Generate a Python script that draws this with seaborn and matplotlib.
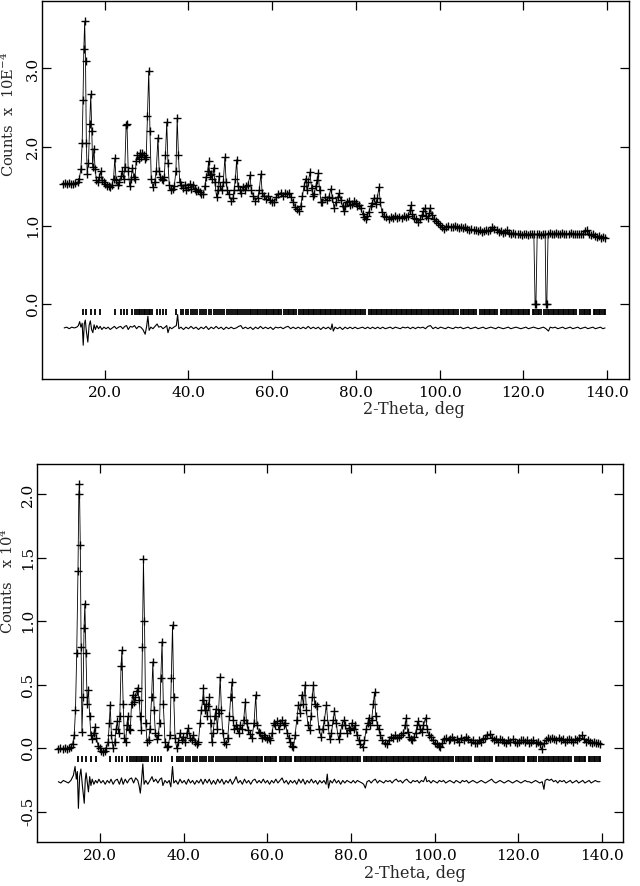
import numpy as np
import matplotlib
matplotlib.use('Agg')
import matplotlib.pyplot as plt
from matplotlib.ticker import FormatStrFormatter
import seaborn as sns

sns.set_theme(style='ticks')
plt.rcParams['font.family'] = ['DejaVu Serif']
plt.rcParams['mathtext.fontset'] = 'dejavuserif'
plt.rcParams['axes.unicode_minus'] = False

# observed profile, panel 1 (2-theta, counts / 1e4)
obs_top = [
    (10.0, 1.53), (10.5, 1.54), (11.0, 1.53), (11.5, 1.54), (12.0, 1.53), (12.5, 1.53), (13.0, 1.54),
    (13.5, 1.55), (13.9, 1.60), (14.3, 1.72), (14.6, 2.05), (14.8, 2.60), (15.0, 3.25), (15.2, 3.60),
    (15.4, 3.10), (15.6, 2.05), (15.8, 1.66), (16.1, 1.80), (16.4, 2.30), (16.65, 2.67), (16.9, 2.20),
    (17.1, 1.75), (17.4, 1.98), (17.7, 1.72), (18.0, 1.58), (18.3, 1.55), (18.7, 1.62), (19.0, 1.69),
    (19.3, 1.58), (19.7, 1.55), (20.1, 1.53), (20.5, 1.51), (20.9, 1.50), (21.3, 1.49), (21.7, 1.52),
    (22.1, 1.60), (22.4, 1.86), (22.7, 1.58), (23.1, 1.52), (23.5, 1.55), (23.9, 1.63), (24.2, 1.70),
    (24.5, 1.60), (24.8, 1.75), (25.1, 2.28), (25.3, 2.30), (25.6, 1.70), (25.95, 1.51), (26.3, 1.60),
    (26.6, 1.74), (26.9, 1.62), (27.2, 1.60), (27.5, 1.82), (27.8, 1.90), (28.1, 1.85), (28.4, 1.92),
    (28.7, 1.88), (29.0, 1.93), (29.3, 1.90), (29.6, 1.85), (29.9, 1.88), (30.2, 2.40), (30.5, 2.97),
    (30.8, 2.20), (31.1, 1.60), (31.5, 1.49), (31.9, 1.55), (32.3, 1.70), (32.7, 2.12), (33.0, 1.70),
    (33.3, 1.62), (33.6, 1.60), (33.9, 1.58), (34.2, 1.62), (34.5, 1.90), (34.8, 2.32), (35.1, 1.80),
    (35.4, 1.52), (35.8, 1.45), (36.2, 1.47), (36.6, 1.50), (37.0, 1.70), (37.3, 2.37), (37.6, 1.90),
    (37.9, 1.55), (38.3, 1.52), (38.7, 1.48), (39.1, 1.52), (39.5, 1.46), (39.9, 1.49), (40.3, 1.53),
    (40.7, 1.47), (41.1, 1.52), (41.5, 1.47), (41.9, 1.44), (42.3, 1.46), (42.7, 1.43), (43.1, 1.40),
    (43.5, 1.40), (43.9, 1.50), (44.2, 1.62), (44.6, 1.70), (44.8, 1.82), (45.1, 1.65), (45.4, 1.66),
    (45.7, 1.60), (46.0, 1.74), (46.3, 1.55), (46.7, 1.37), (47.0, 1.45), (47.3, 1.63), (47.6, 1.50),
    (47.9, 1.45), (48.3, 1.55), (48.7, 1.87), (49.0, 1.55), (49.3, 1.45), (49.7, 1.40), (50.2, 1.32),
    (50.6, 1.35), (50.9, 1.45), (51.2, 1.60), (51.5, 1.84), (51.8, 1.50), (52.2, 1.45), (52.6, 1.42),
    (53.0, 1.49), (53.4, 1.45), (53.8, 1.50), (54.2, 1.52), (54.7, 1.64), (55.0, 1.45), (55.5, 1.38),
    (56.0, 1.32), (56.5, 1.35), (56.9, 1.45), (57.3, 1.66), (57.6, 1.42), (58.0, 1.38), (58.5, 1.34),
    (59.0, 1.38), (59.5, 1.33), (60.0, 1.30), (60.5, 1.30), (61.0, 1.36), (61.5, 1.40), (62.0, 1.42),
    (62.5, 1.38), (63.0, 1.41), (63.5, 1.40), (64.0, 1.42), (64.5, 1.36), (65.0, 1.30), (65.5, 1.24),
    (66.0, 1.21), (66.4, 1.19), (66.8, 1.25), (67.2, 1.38), (67.6, 1.50), (68.0, 1.60), (68.3, 1.45),
    (68.6, 1.55), (69.0, 1.68), (69.4, 1.48), (69.7, 1.38), (70.0, 1.40), (70.4, 1.50), (70.7, 1.58),
    (71.0, 1.67), (71.3, 1.45), (71.7, 1.30), (72.0, 1.30), (72.5, 1.36), (73.0, 1.33), (73.5, 1.36),
    (74.0, 1.47), (74.4, 1.35), (74.8, 1.22), (75.2, 1.30), (75.6, 1.36), (76.0, 1.41), (76.4, 1.33),
    (76.8, 1.25), (77.1, 1.19), (77.5, 1.25), (77.9, 1.30), (78.3, 1.32), (78.7, 1.26), (79.1, 1.28),
    (79.5, 1.31), (79.9, 1.29), (80.3, 1.25), (80.7, 1.27), (81.1, 1.22), (81.6, 1.15), (82.0, 1.11),
    (82.3, 1.09), (82.7, 1.12), (83.1, 1.18), (83.5, 1.25), (83.9, 1.29), (84.3, 1.35), (84.7, 1.28),
    (85.1, 1.35), (85.5, 1.49), (85.8, 1.30), (86.2, 1.18), (86.7, 1.13), (87.3, 1.11), (87.9, 1.09),
    (88.4, 1.11), (88.9, 1.10), (89.4, 1.12), (89.9, 1.10), (90.4, 1.11), (90.9, 1.10), (91.4, 1.12),
    (91.9, 1.11), (92.4, 1.13), (92.9, 1.20), (93.2, 1.26), (93.5, 1.15), (93.9, 1.10), (94.4, 1.08),
    (94.9, 1.05), (95.4, 1.08), (95.8, 1.14), (96.1, 1.19), (96.4, 1.22), (96.8, 1.13), (97.2, 1.10),
    (97.5, 1.16), (97.8, 1.22), (98.1, 1.14), (98.6, 1.09), (99.1, 1.06), (99.6, 1.04), (100.1, 1.01),
    (100.6, 0.98), (101.1, 0.96), (101.6, 0.99), (102.1, 1.00), (102.6, 0.98), (103.1, 0.99),
    (103.6, 1.00), (104.1, 0.98), (104.6, 0.97), (105.1, 0.99), (105.6, 0.97), (106.1, 0.98),
    (106.6, 0.96), (107.1, 0.95), (107.6, 0.96), (108.1, 0.94), (108.6, 0.95), (109.1, 0.93),
    (109.6, 0.94), (110.1, 0.92), (110.6, 0.93), (111.1, 0.94), (111.6, 0.93), (112.1, 0.95),
    (112.6, 0.98), (113.1, 0.96), (113.6, 0.94), (114.1, 0.92), (114.6, 0.93), (115.1, 0.91),
    (115.6, 0.92), (116.1, 0.94), (116.6, 0.91), (117.1, 0.90), (117.6, 0.91), (118.1, 0.90),
    (118.6, 0.89), (119.1, 0.90), (119.6, 0.88), (120.1, 0.89), (120.6, 0.90), (121.1, 0.88),
    (121.6, 0.89), (122.1, 0.90), (122.5, 0.89), (122.8, 0.00), (123.0, 0.00), (123.3, 0.89),
    (123.7, 0.90), (124.2, 0.88), (124.7, 0.89), (125.2, 0.89), (125.4, 0.00), (125.6, 0.00),
    (125.9, 0.90), (126.3, 0.91), (126.8, 0.89), (127.3, 0.90), (127.8, 0.91), (128.3, 0.89),
    (128.8, 0.90), (129.3, 0.91), (129.8, 0.90), (130.3, 0.89), (130.8, 0.90), (131.3, 0.91),
    (131.8, 0.89), (132.3, 0.90), (132.8, 0.89), (133.3, 0.90), (133.8, 0.89), (134.3, 0.90),
    (134.8, 0.93), (135.2, 0.94), (135.6, 0.90), (136.1, 0.88), (136.6, 0.89), (137.1, 0.87),
    (137.6, 0.86), (138.1, 0.87), (138.6, 0.85), (139.1, 0.86), (139.5, 0.84),
]

# observed profile, panel 2 (2-theta, counts / 1e4)
obs_bot = [
    (10.0, -0.01), (10.5, 0.00), (11.0, -0.01), (11.5, 0.00), (12.0, -0.01), (12.5, 0.00), (13.0, 0.01),
    (13.4, 0.03), (13.8, 0.10), (14.1, 0.30), (14.4, 0.75), (14.7, 1.40), (14.9, 2.00), (15.05, 2.08),
    (15.25, 1.60), (15.45, 0.80), (15.65, 0.13), (15.9, 0.40), (16.15, 0.95), (16.35, 1.14), (16.6, 0.75),
    (16.9, 0.35), (17.2, 0.46), (17.5, 0.25), (17.8, 0.10), (18.1, 0.07), (18.5, 0.12), (18.8, 0.17),
    (19.1, 0.08), (19.5, 0.02), (19.9, 0.00), (20.3, -0.02), (20.7, -0.03), (21.1, -0.02), (21.5, 0.00),
    (21.9, 0.05), (22.2, 0.20), (22.4, 0.34), (22.7, 0.10), (23.1, 0.00), (23.5, 0.05), (23.8, 0.15),
    (24.1, 0.21), (24.4, 0.12), (24.7, 0.25), (25.0, 0.65), (25.2, 0.77), (25.5, 0.35), (25.8, 0.08),
    (26.1, 0.05), (26.4, 0.18), (26.6, 0.25), (26.9, 0.15), (27.2, 0.14), (27.5, 0.35), (27.8, 0.42),
    (28.1, 0.36), (28.4, 0.40), (28.7, 0.45), (29.0, 0.47), (29.3, 0.38), (29.6, 0.25), (29.85, 0.14),
    (30.1, 0.80), (30.35, 1.49), (30.6, 1.00), (30.9, 0.20), (31.2, 0.05), (31.6, 0.06), (31.9, 0.15),
    (32.3, 0.40), (32.6, 0.68), (32.9, 0.30), (33.2, 0.12), (33.6, 0.07), (33.9, 0.10), (34.2, 0.20),
    (34.5, 0.55), (34.8, 0.84), (35.1, 0.35), (35.5, 0.05), (35.9, 0.01), (36.3, 0.02), (36.7, 0.10),
    (37.0, 0.55), (37.3, 0.97), (37.6, 0.40), (37.9, 0.08), (38.3, 0.00), (38.7, 0.05), (39.1, 0.12),
    (39.5, 0.06), (39.9, 0.09), (40.3, 0.05), (40.7, 0.12), (41.1, 0.16), (41.5, 0.08), (41.9, 0.06),
    (42.3, 0.10), (42.7, 0.05), (43.1, 0.03), (43.5, 0.05), (43.9, 0.20), (44.2, 0.30), (44.5, 0.38),
    (44.7, 0.47), (45.0, 0.30), (45.3, 0.35), (45.6, 0.25), (45.9, 0.33), (46.1, 0.40), (46.4, 0.20),
    (46.7, 0.05), (47.0, 0.12), (47.4, 0.25), (47.7, 0.31), (48.0, 0.15), (48.3, 0.28), (48.7, 0.56),
    (49.0, 0.30), (49.3, 0.12), (49.7, 0.05), (50.1, 0.03), (50.5, 0.08), (50.9, 0.25), (51.2, 0.40),
    (51.5, 0.52), (51.8, 0.22), (52.1, 0.15), (52.4, 0.18), (52.7, 0.16), (53.1, 0.12), (53.5, 0.18),
    (53.9, 0.15), (54.3, 0.22), (54.7, 0.36), (55.0, 0.20), (55.4, 0.14), (55.9, 0.11), (56.3, 0.08),
    (56.8, 0.20), (57.2, 0.42), (57.5, 0.18), (57.9, 0.13), (58.3, 0.12), (58.7, 0.08), (59.1, 0.10),
    (59.5, 0.09), (59.9, 0.07), (60.3, 0.08), (60.7, 0.06), (61.1, 0.12), (61.5, 0.20), (61.9, 0.18),
    (62.3, 0.21), (62.7, 0.15), (63.1, 0.20), (63.5, 0.22), (63.9, 0.18), (64.3, 0.20), (64.7, 0.12),
    (65.1, 0.08), (65.5, 0.05), (65.9, 0.02), (66.2, 0.01), (66.6, 0.10), (67.0, 0.22), (67.4, 0.34),
    (67.8, 0.28), (68.2, 0.42), (68.6, 0.35), (69.0, 0.50), (69.3, 0.30), (69.7, 0.18), (70.1, 0.14),
    (70.4, 0.25), (70.7, 0.40), (71.0, 0.50), (71.3, 0.35), (71.8, 0.33), (72.3, 0.15), (72.8, 0.09),
    (73.2, 0.15), (73.6, 0.22), (74.1, 0.34), (74.5, 0.18), (74.9, 0.07), (75.3, 0.12), (75.7, 0.22),
    (76.0, 0.29), (76.4, 0.20), (77.0, 0.07), (77.4, 0.12), (77.8, 0.18), (78.2, 0.22), (78.6, 0.18),
    (79.0, 0.12), (79.4, 0.16), (79.8, 0.14), (80.2, 0.20), (80.6, 0.15), (81.0, 0.18), (81.4, 0.10),
    (81.8, 0.06), (82.2, 0.03), (82.8, 0.01), (83.2, 0.06), (83.6, 0.15), (84.0, 0.20), (84.2, 0.24),
    (84.5, 0.18), (84.9, 0.22), (85.3, 0.35), (85.6, 0.44), (85.9, 0.25), (86.3, 0.18), (86.6, 0.15),
    (87.0, 0.10), (87.5, 0.06), (88.0, 0.04), (88.6, 0.03), (89.0, 0.06), (89.5, 0.09), (90.0, 0.08),
    (90.5, 0.10), (91.0, 0.08), (91.5, 0.09), (92.0, 0.10), (92.5, 0.12), (92.9, 0.18), (93.2, 0.24),
    (93.5, 0.13), (93.9, 0.09), (94.3, 0.07), (94.6, 0.06), (95.0, 0.09), (95.4, 0.12), (95.8, 0.18),
    (96.1, 0.21), (96.5, 0.15), (96.9, 0.13), (97.3, 0.18), (97.8, 0.24), (98.2, 0.15), (98.6, 0.10),
    (99.0, 0.09), (99.5, 0.06), (100.0, 0.04), (100.5, 0.03), (101.0, 0.02), (101.3, 0.01),
    (101.8, 0.04), (102.3, 0.07), (102.8, 0.08), (103.3, 0.06), (103.7, 0.07), (104.2, 0.09),
    (104.7, 0.06), (105.2, 0.07), (105.7, 0.05), (106.2, 0.08), (106.9, 0.06), (107.5, 0.09),
    (108.0, 0.07), (108.6, 0.05), (109.1, 0.06), (109.6, 0.04), (110.1, 0.04), (110.6, 0.06),
    (111.1, 0.05), (111.6, 0.07), (112.1, 0.08), (112.6, 0.10), (113.1, 0.11), (113.6, 0.08),
    (114.1, 0.06), (114.6, 0.07), (115.1, 0.05), (115.6, 0.07), (116.1, 0.06), (116.6, 0.05),
    (117.1, 0.04), (117.6, 0.06), (118.1, 0.05), (118.6, 0.07), (119.1, 0.05), (119.6, 0.04),
    (120.1, 0.05), (120.6, 0.06), (121.1, 0.06), (121.6, 0.05), (122.1, 0.06), (122.6, 0.04),
    (123.1, 0.05), (123.6, 0.06), (124.1, 0.04), (124.6, 0.05), (125.1, 0.03), (125.6, -0.01),
    (126.1, 0.04), (126.6, 0.06), (127.1, 0.08), (127.6, 0.07), (128.1, 0.08), (128.6, 0.07),
    (129.1, 0.06), (129.6, 0.08), (130.1, 0.06), (130.6, 0.07), (131.1, 0.05), (131.6, 0.06),
    (132.1, 0.07), (132.6, 0.06), (133.1, 0.05), (133.6, 0.07), (134.1, 0.06), (134.6, 0.08),
    (135.2, 0.10), (135.6, 0.07), (136.1, 0.05), (136.6, 0.06), (137.1, 0.05), (137.6, 0.04),
    (138.1, 0.05), (138.6, 0.04), (139.1, 0.04), (139.6, 0.03),
]

# obs - calc residuals
diff_top = [
    (10.3, 0.00), (10.9, 0.01), (11.5, -0.01), (12.1, 0.01), (12.7, 0.00), (13.3, 0.01), (13.7, 0.03),
    (14.0, 0.08), (14.3, 0.01), (14.6, 0.06), (14.85, -0.22), (15.1, 0.05), (15.35, 0.10), (15.6, -0.04),
    (15.95, -0.18), (16.25, 0.03), (16.55, 0.09), (16.85, -0.02), (17.15, -0.06), (17.45, 0.04),
    (17.75, -0.02), (18.1, 0.03), (18.5, -0.01), (18.9, 0.02), (19.3, -0.02), (19.8, 0.01), (20.3, -0.01),
    (20.8, 0.01), (21.3, -0.02), (21.8, 0.00), (22.3, 0.02), (22.8, -0.01), (23.3, 0.01), (23.8, 0.02),
    (24.3, -0.01), (24.8, 0.02), (25.2, 0.03), (25.6, -0.02), (26.1, 0.02), (26.6, 0.01), (27.1, 0.03),
    (27.6, -0.01), (28.1, 0.02), (28.6, 0.01), (29.1, -0.02), (29.65, -0.08), (30.0, 0.02), (30.3, 0.15),
    (30.6, -0.03), (31.0, 0.01), (31.5, -0.01), (32.0, 0.02), (32.5, 0.05), (32.9, 0.01), (33.4, 0.02),
    (33.9, -0.01), (34.4, 0.01), (34.8, 0.03), (35.1, -0.06), (35.5, 0.01), (36.0, -0.01), (36.5, 0.01),
    (37.1, 0.03), (37.4, 0.17), (37.7, -0.01), (38.2, 0.01), (38.8, -0.02), (39.4, 0.01), (40.0, -0.01),
    (40.6, 0.02), (41.2, -0.01), (41.8, 0.01), (42.4, -0.02), (43.0, 0.01), (43.6, -0.01), (44.2, 0.02),
    (44.8, -0.02), (45.4, 0.01), (46.0, -0.01), (46.6, 0.02), (47.2, -0.01), (47.8, 0.01), (48.4, -0.02),
    (49.0, 0.01), (49.6, -0.01), (50.2, 0.01), (50.8, -0.01), (51.4, 0.00), (52.0, 0.02), (52.5, 0.03),
    (53.0, -0.01), (53.6, 0.01), (54.2, -0.01), (54.8, 0.01), (55.4, -0.02), (56.0, 0.01), (56.6, -0.01),
    (57.2, 0.02), (57.8, -0.01), (58.4, 0.01), (59.0, -0.01), (59.6, 0.01), (60.2, -0.02), (60.8, 0.01),
    (61.4, 0.00), (62.0, 0.01), (62.6, -0.01), (63.2, 0.01), (63.8, 0.02), (64.4, -0.01), (65.0, 0.01),
    (65.6, -0.01), (66.2, 0.01), (66.8, -0.01), (67.4, 0.01), (68.0, -0.01), (68.6, 0.02), (69.2, -0.01),
    (69.8, 0.01), (70.4, -0.01), (71.0, 0.01), (71.6, -0.02), (72.2, 0.01), (72.8, -0.01), (73.4, 0.01),
    (74.0, -0.02), (74.3, 0.05), (74.6, -0.04), (75.0, 0.01), (75.6, -0.01), (76.2, 0.01), (76.8, -0.02),
    (77.4, 0.01), (78.0, -0.01), (78.6, 0.01), (79.2, -0.01), (79.8, 0.01), (80.4, -0.01), (81.0, 0.00),
    (81.6, 0.01), (82.2, -0.01), (82.8, 0.01), (83.4, -0.01), (84.0, 0.01), (84.6, -0.01), (85.2, 0.01),
    (85.8, -0.01), (86.4, 0.01), (87.0, -0.01), (87.6, 0.00), (88.2, 0.01), (88.8, -0.01), (89.4, 0.01),
    (90.0, 0.00), (90.6, -0.01), (91.2, 0.01), (91.8, 0.00), (92.4, 0.01), (93.0, -0.01), (93.6, 0.01),
    (94.2, -0.01), (94.8, 0.01), (95.4, 0.00), (96.0, 0.01), (96.6, -0.01), (97.2, 0.02), (97.8, 0.03),
    (98.4, -0.01), (99.0, 0.01), (99.6, -0.01), (100.2, 0.01), (100.8, 0.00), (101.4, -0.01),
    (102.0, 0.01), (102.6, 0.00), (103.2, -0.01), (103.8, 0.01), (104.4, 0.00), (105.0, 0.01),
    (105.6, -0.01), (106.2, 0.00), (106.8, 0.01), (107.4, -0.01), (108.0, 0.00), (108.6, 0.01),
    (109.2, -0.01), (109.8, 0.00), (110.4, 0.01), (111.0, -0.01), (111.6, 0.00), (112.2, 0.01),
    (112.8, 0.00), (113.4, -0.01), (114.0, 0.01), (114.6, 0.00), (115.2, -0.01), (115.8, 0.00),
    (116.4, 0.01), (117.0, -0.01), (117.6, 0.00), (118.2, 0.01), (118.8, 0.00), (119.4, -0.01),
    (120.0, 0.00), (120.6, 0.01), (121.2, -0.01), (121.8, 0.00), (122.4, 0.01), (123.0, 0.00),
    (123.6, -0.01), (124.2, 0.00), (124.8, 0.01), (125.4, -0.01), (126.0, -0.04), (126.4, 0.01),
    (127.0, 0.00), (127.6, 0.01), (128.2, -0.01), (128.8, 0.00), (129.4, 0.01), (130.0, -0.01),
    (130.6, 0.00), (131.2, 0.01), (131.8, -0.01), (132.4, 0.00), (133.0, 0.01), (133.6, -0.01),
    (134.2, 0.00), (134.8, 0.01), (135.4, -0.01), (136.0, 0.00), (136.6, 0.01), (137.2, -0.01),
    (137.8, 0.00), (138.4, 0.01), (139.0, -0.01), (139.5, 0.00),
]

diff_bot = [
    (10.0, 0.00), (10.6, -0.01), (11.2, 0.01), (11.8, 0.00), (12.4, -0.01), (13.0, 0.01), (13.6, 0.05),
    (14.0, 0.12), (14.3, 0.02), (14.55, 0.08), (14.8, -0.21), (15.1, 0.04), (15.4, 0.10), (15.75, -0.03),
    (16.2, -0.17), (16.45, 0.02), (16.65, 0.07), (16.95, -0.01), (17.2, -0.08), (17.5, 0.04), (17.8, -0.03),
    (18.1, 0.02), (18.5, -0.02), (18.9, 0.01), (19.3, -0.01), (19.7, 0.02), (20.2, -0.01), (20.7, 0.01),
    (21.2, -0.02), (21.7, 0.01), (22.2, -0.01), (22.6, 0.02), (23.1, -0.02), (23.6, 0.01), (24.1, 0.02),
    (24.6, -0.02), (25.1, 0.03), (25.5, -0.02), (26.0, 0.02), (26.5, -0.01), (27.0, 0.02), (27.5, 0.03),
    (28.0, -0.01), (28.5, 0.03), (29.0, 0.01), (29.3, -0.03), (29.6, -0.09), (29.9, 0.01), (30.2, 0.14),
    (30.5, -0.02), (30.9, 0.01), (31.4, -0.02), (31.9, 0.01), (32.4, 0.04), (32.8, 0.00), (33.3, 0.02),
    (33.8, -0.01), (34.3, 0.02), (34.7, 0.03), (35.0, -0.03), (35.5, 0.01), (36.0, -0.01), (36.5, 0.01),
    (36.9, -0.04), (37.3, 0.12), (37.6, -0.01), (38.1, 0.01), (38.6, -0.02), (39.1, 0.02), (39.6, -0.01),
    (40.1, 0.01), (40.6, -0.02), (41.1, 0.02), (41.6, -0.01), (42.1, 0.01), (42.6, -0.02), (43.1, 0.01),
    (43.6, -0.01), (44.1, 0.02), (44.6, -0.02), (45.1, 0.02), (45.6, -0.01), (46.1, 0.02), (46.6, -0.02),
    (47.1, 0.01), (47.6, -0.02), (48.1, 0.02), (48.6, -0.01), (49.1, 0.02), (49.6, -0.02), (50.1, 0.01),
    (50.6, -0.01), (51.1, 0.02), (51.6, -0.02), (52.1, 0.01), (52.5, 0.04), (53.0, -0.01), (53.5, 0.01),
    (54.0, -0.02), (54.5, 0.02), (55.0, -0.01), (55.5, 0.01), (56.0, -0.02), (56.5, 0.01), (57.0, 0.02),
    (57.5, -0.01), (58.0, 0.01), (58.5, -0.01), (59.0, 0.02), (59.5, -0.01), (60.0, 0.01), (60.5, -0.02),
    (61.0, 0.01), (61.5, -0.01), (62.0, 0.02), (62.5, -0.01), (63.0, 0.01), (63.5, 0.03), (64.0, -0.01),
    (64.5, 0.01), (65.0, -0.02), (65.5, 0.01), (66.0, -0.01), (66.5, 0.01), (67.0, -0.02), (67.5, 0.02),
    (68.0, -0.01), (68.5, 0.02), (69.0, -0.02), (69.5, 0.01), (70.0, -0.01), (70.5, 0.02), (71.0, -0.01),
    (71.5, 0.01), (72.0, -0.02), (72.5, 0.01), (73.0, -0.01), (73.5, 0.01), (74.0, -0.02), (74.3, 0.06),
    (74.6, -0.05), (75.0, 0.01), (75.5, -0.01), (76.0, 0.02), (76.5, -0.01), (77.0, 0.01), (77.5, -0.02),
    (78.0, 0.01), (78.5, -0.01), (79.0, 0.01), (79.5, 0.00), (80.0, -0.01), (80.5, 0.01), (81.0, -0.01),
    (81.5, 0.01), (82.0, 0.00), (82.6, -0.01), (83.0, -0.02), (83.4, -0.05), (83.8, 0.00), (84.3, 0.01),
    (84.8, -0.01), (85.3, 0.01), (85.8, 0.02), (86.3, -0.01), (86.8, 0.01), (87.3, 0.00), (87.8, -0.01),
    (88.3, 0.01), (88.8, 0.00), (89.3, 0.01), (89.8, -0.01), (90.3, 0.01), (90.8, 0.02), (91.3, 0.00),
    (91.8, 0.01), (92.3, -0.01), (92.8, 0.01), (93.3, 0.02), (93.8, 0.00), (94.3, -0.01), (94.8, 0.01),
    (95.3, 0.00), (95.8, 0.01), (96.3, -0.01), (96.8, 0.01), (97.3, 0.00), (97.8, 0.04), (98.1, 0.00),
    (98.6, 0.01), (99.1, -0.01), (99.6, 0.01), (100.1, 0.00), (100.6, -0.01), (101.1, 0.01),
    (101.6, 0.00), (102.1, 0.01), (102.6, -0.01), (103.1, 0.00), (103.6, 0.01), (104.1, 0.00),
    (104.6, -0.01), (105.1, 0.01), (105.6, 0.00), (106.1, -0.01), (106.6, 0.01), (107.1, 0.00),
    (107.6, 0.01), (108.1, -0.01), (108.6, 0.00), (109.1, 0.01), (109.6, 0.00), (110.1, -0.01),
    (110.6, 0.00), (111.1, 0.01), (111.6, 0.00), (112.1, -0.01), (112.6, 0.00), (113.1, 0.01),
    (113.6, 0.02), (114.1, 0.00), (114.6, -0.01), (115.1, 0.00), (115.6, 0.01), (116.1, 0.00),
    (116.6, -0.01), (117.1, 0.00), (117.6, 0.01), (118.1, 0.00), (118.6, -0.01), (119.1, 0.00),
    (119.6, 0.01), (120.1, 0.00), (120.6, -0.01), (121.1, 0.00), (121.6, 0.01), (122.1, 0.00),
    (122.6, 0.00), (123.1, -0.01), (123.6, 0.00), (124.1, 0.01), (124.6, 0.00), (125.1, -0.01),
    (125.7, 0.00), (126.1, -0.06), (126.4, 0.01), (126.9, 0.02), (127.4, 0.01), (127.9, 0.02),
    (128.4, 0.00), (128.9, 0.01), (129.4, -0.01), (129.9, 0.01), (130.4, 0.00), (130.9, 0.01),
    (131.4, -0.01), (131.9, 0.00), (132.4, 0.01), (132.9, -0.01), (133.4, 0.00), (133.9, 0.01),
    (134.4, -0.01), (134.9, 0.00), (135.4, 0.01), (135.9, -0.01), (136.4, 0.00), (136.9, 0.01),
    (137.4, -0.01), (137.9, 0.00), (138.4, 0.01), (138.9, 0.00), (139.5, 0.00),
]

# reflection positions (2-theta)
reflections = [
    14.8, 15.6, 16.7, 17.7, 18.9, 22.4, 23.9, 24.5, 25.3, 26.4, 27.2, 27.7, 28.1, 28.5, 28.9, 29.3,
    29.7, 30.1, 30.5, 30.9, 31.4, 32.4, 33.1, 33.9, 34.6, 37.1,
    38.3, 38.8, 39.4, 39.9, 40.5, 41.0, 41.6, 42.1, 42.7, 43.2, 43.8, 44.3, 44.9, 45.4, 46.0, 46.5,
    47.1, 47.6, 48.1, 48.6, 49.1, 49.6, 50.1, 50.6, 51.1, 51.5, 51.9, 52.4, 52.8, 53.3, 53.7, 54.1,
    54.6, 55.0, 55.4, 55.9, 56.3, 56.7, 57.2, 57.6, 58.0, 58.4, 58.8, 59.3, 59.7, 60.1, 60.5, 60.9,
    61.3, 61.7, 62.1, 62.9, 63.3, 63.7, 64.1, 64.5, 64.9, 65.3, 65.7, 66.5, 66.9, 67.3, 67.7, 68.1,
    68.5, 68.9, 69.3, 69.7, 70.1, 70.5, 70.9, 71.3, 71.7, 72.1, 72.5, 72.9, 73.3, 73.7, 74.1, 74.5,
    74.9, 75.3, 75.7, 76.1, 76.5, 76.9, 77.3, 77.7, 78.1, 78.5, 78.9, 79.3, 79.7, 80.1, 80.5, 80.9,
    81.3, 81.7, 82.1, 83.1, 83.5, 83.9, 84.3, 84.7, 85.1, 85.5, 85.9, 86.3, 86.7, 87.1, 87.5, 87.9,
    88.3, 88.7, 89.1, 89.5, 89.9, 90.3, 90.7, 91.1, 91.5, 91.9, 92.3, 92.7, 93.1, 93.5, 93.9, 94.3,
    94.7, 95.1, 95.5, 95.9, 96.3, 96.7, 97.1, 97.5, 97.9, 98.3, 98.7, 99.1, 99.5, 99.9, 100.3, 100.7,
    101.1, 101.5, 101.9, 102.3, 102.7, 103.1, 103.5, 103.9, 104.3, 105.1, 105.5, 105.9, 106.3, 106.7,
    107.1, 107.5, 107.9, 108.3, 108.7, 109.7, 110.1, 110.5, 110.9, 111.3, 111.7, 112.1, 112.5, 112.9,
    113.3, 113.7, 114.6, 115.0, 115.4, 115.8, 116.2, 116.6, 117.0, 117.4, 117.8, 118.2, 118.6, 119.0,
    119.4, 119.8, 120.2, 120.6, 121.0, 121.4, 122.2, 122.6, 123.0, 123.4, 123.8, 124.2, 125.0, 125.4,
    125.8, 126.2, 126.6, 127.0, 127.4, 127.8, 128.2, 128.6, 129.0, 129.4, 129.8, 130.2, 130.6, 131.0,
    131.4, 131.8, 132.2, 132.6, 133.6, 134.0, 134.4, 134.8, 135.2, 135.6, 136.0, 136.8, 137.2, 137.6,
    138.0, 138.4, 138.8, 139.2, 139.6,
]

x_ticks = [20, 40, 60, 80, 100, 120, 140]
y_ticks_top = [0.0, 1.0, 2.0, 3.0]
y_ticks_bot = [-0.5, 0.0, 0.5, 1.0, 1.5, 2.0]
ylabel_top = r'Counts  x  10E$^{-4}$'
ylabel_bot = r'Counts   x 10$^{4}$'
xlabel = '2-Theta, deg'


def draw_panel(ax, obs, diff, diff_base, refl_y):
    tth, cnt = zip(*obs)
    sns.lineplot(x=list(tth), y=list(cnt), ax=ax, color='black', lw=0.6, marker='+',
                 markersize=6, markeredgewidth=1.0, markeredgecolor='black',
                 sort=False, estimator=None)
    dx, dy = zip(*diff)
    sns.lineplot(x=list(dx), y=[diff_base + v for v in dy], ax=ax, color='black', lw=0.8,
                 sort=False, estimator=None)
    sns.scatterplot(x=reflections, y=[refl_y] * len(reflections), ax=ax, marker='|',
                    s=22, linewidth=1.3, color='black')


fig = plt.figure(figsize=(6.4, 8.86), dpi=100)
ax1 = fig.add_axes([0.0656, 0.5722, 0.917, 0.4268])
ax2 = fig.add_axes([0.0578, 0.0497, 0.9156, 0.4266])

draw_panel(ax1, obs_top, diff_top, -0.30, -0.10)
draw_panel(ax2, obs_bot, diff_bot, -0.265, -0.085)

ax1.set_xlim(5.0, 145.2)
ax1.set_ylim(-0.95, 3.86)
ax2.set_xlim(4.9, 145.0)
ax2.set_ylim(-0.74, 2.24)
ax1.set_yticks(y_ticks_top)
ax2.set_yticks(y_ticks_bot)

for ax, ylab, ycoord, xcoord, ypad in [(ax1, ylabel_top, 0.70, -0.042, 1.5),
                                       (ax2, ylabel_bot, 0.69, -0.035, 1.5)]:
    ax.set_xticks(x_ticks)
    ax.xaxis.set_major_formatter(FormatStrFormatter('%.1f'))
    ax.yaxis.set_major_formatter(FormatStrFormatter('%.1f'))
    ax.tick_params(direction='in', length=6.5, width=0.9, top=True, right=True,
                   labelsize=11, colors='black')
    ax.tick_params(axis='x', pad=5)
    ax.tick_params(axis='y', labelrotation=90, pad=ypad)
    for lab in ax.get_yticklabels():
        lab.set_va('center')
    for sp in ax.spines.values():
        sp.set_linewidth(1.0)
        sp.set_color('black')
    ax.set_xlabel(xlabel, fontsize=11.5)
    ax.set_ylabel(ylab, fontsize=10.5)
    ax.yaxis.set_label_coords(xcoord, ycoord)
    ax.grid(False)

ax1.xaxis.set_label_coords(0.634, -0.058)
ax2.xaxis.set_label_coords(0.645, -0.062)

fig.savefig('out.png', dpi=100)
